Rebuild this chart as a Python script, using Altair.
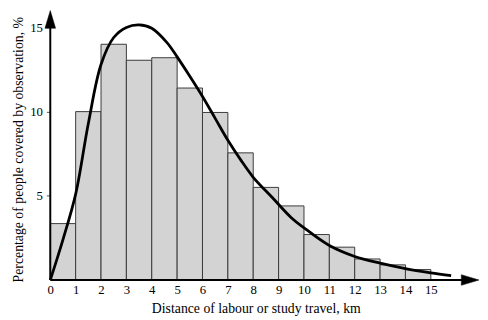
import altair as alt
import pandas as pd

# Histogram bins (km) and shares (%)
bin_start = [0, 1, 2, 3, 4, 5, 6, 7, 8, 9, 10, 11, 12, 13, 14]
bin_end = [1, 2, 3, 4, 5, 6, 7, 8, 9, 10, 11, 12, 13, 14, 15]
share = [3.35, 10.0, 14.0, 13.05, 13.2, 11.4, 9.95, 7.55, 5.5, 4.4, 2.7, 1.95, 1.25, 0.9, 0.62]

# Fitted curve
curve_x = [0, 0.5, 1.0, 1.5, 2.0, 2.5, 3.0, 3.5, 4.0, 4.6, 5.0, 5.5, 6.0, 6.5, 7.0, 7.5, 8.0, 8.75, 9.5, 10.0, 11.0, 12.0, 13.0, 14.0, 15.0, 15.8]
curve_y = [0, 2.4, 5.1, 9.3, 12.8, 14.4, 15.0, 15.15, 14.95, 14.1, 13.25, 12.1, 10.9, 9.6, 8.3, 7.15, 6.1, 4.9, 3.7, 3.1, 2.05, 1.4, 1.0, 0.68, 0.43, 0.26]

x_ticks = list(range(0, 16))
y_ticks = [5, 10, 15]

X_MAX = 16.9
Y_MAX = 16.0
FONT = "Liberation Serif"
X_TITLE = "Distance of labour or study travel, km"
Y_TITLE = "Percentage of people covered by observation, %"

bars_df = pd.DataFrame({"start": bin_start, "end": bin_end, "share": share})
curve_df = pd.DataFrame({"x": curve_x, "y": curve_y})

xscale = alt.Scale(domain=[0, X_MAX], nice=False, zero=False)
yscale = alt.Scale(domain=[0, Y_MAX], nice=False, zero=False)

x_axis = alt.Axis(values=x_ticks, ticks=False, domain=False, grid=False,
                  labelOverlap=False, labelFlush=False, labelPadding=4,
                  title=X_TITLE, titleX=209, titleY=29,
                  titleBaseline="middle", titleAnchor="middle", titleAlign="center")
y_axis = alt.Axis(values=y_ticks, ticks=True, tickSize=4, tickColor="#555",
                  domain=False, grid=False, labelOverlap=False, labelPadding=4,
                  title=Y_TITLE, titleX=-32, titleY=141,
                  titleBaseline="middle", titleAngle=-90, titleAlign="center")

bars = alt.Chart(bars_df).mark_rect(
    fill="#d3d3d3", stroke="#3a3a3a", strokeWidth=1
).encode(
    x=alt.X("start:Q", scale=xscale, axis=x_axis, title=X_TITLE),
    x2="end:Q",
    y=alt.Y("share:Q", scale=yscale, axis=y_axis, title=Y_TITLE),
    y2=alt.Y2(datum=0),
)

curve = alt.Chart(curve_df).mark_line(
    color="black", strokeWidth=2.8, interpolate="catmull-rom", clip=False
).encode(
    x=alt.X("x:Q", scale=xscale, axis=x_axis, title=X_TITLE),
    y=alt.Y("y:Q", scale=yscale, axis=y_axis, title=Y_TITLE),
)

x_axis_line = alt.Chart(pd.DataFrame({"a": [0], "b": [X_MAX - 0.4]})).mark_rule(
    color="black", strokeWidth=2
).encode(x=alt.X("a:Q", scale=xscale, axis=x_axis, title=X_TITLE), x2="b:Q",
         y=alt.Y(datum=0, scale=yscale, axis=y_axis, title=Y_TITLE))

y_axis_line = alt.Chart(pd.DataFrame({"a": [0], "b": [Y_MAX - 0.5]})).mark_rule(
    color="black", strokeWidth=2
).encode(y=alt.Y("a:Q", scale=yscale, axis=y_axis, title=Y_TITLE), y2="b:Q",
         x=alt.X(datum=0, scale=xscale, axis=x_axis, title=X_TITLE))

x_arrow = alt.Chart(pd.DataFrame({"x": [X_MAX], "y": [0]})).mark_point(
    shape="M0,0L-2,-0.6L-2,0.6Z", size=324, filled=True, fill="black",
    stroke="black", strokeWidth=0.5, opacity=1, clip=False
).encode(x=alt.X("x:Q", scale=xscale, axis=x_axis, title=X_TITLE),
         y=alt.Y("y:Q", scale=yscale, axis=y_axis, title=Y_TITLE))

y_arrow = alt.Chart(pd.DataFrame({"x": [0], "y": [Y_MAX]})).mark_point(
    shape="M0,0L0.6,2L-0.6,2Z", size=324, filled=True, fill="black",
    stroke="black", strokeWidth=0.5, opacity=1, clip=False
).encode(x=alt.X("x:Q", scale=xscale, axis=x_axis, title=X_TITLE),
         y=alt.Y("y:Q", scale=yscale, axis=y_axis, title=Y_TITLE))

chart = alt.layer(bars, curve, x_axis_line, y_axis_line, x_arrow, y_arrow).properties(
    width=436, height=274,
    autosize=alt.AutoSizeParams(type="none"),
    padding={"left": 43, "top": 0, "right": 1, "bottom": 35},
    background="white",
).configure_view(stroke=None).configure_axis(
    labelFont=FONT, labelFontSize=13, labelColor="black",
    titleFont=FONT, titleFontSize=14, titleFontWeight="normal", titleColor="black",
)

chart.save("out.html", embed_options={"renderer": "svg", "actions": False})
